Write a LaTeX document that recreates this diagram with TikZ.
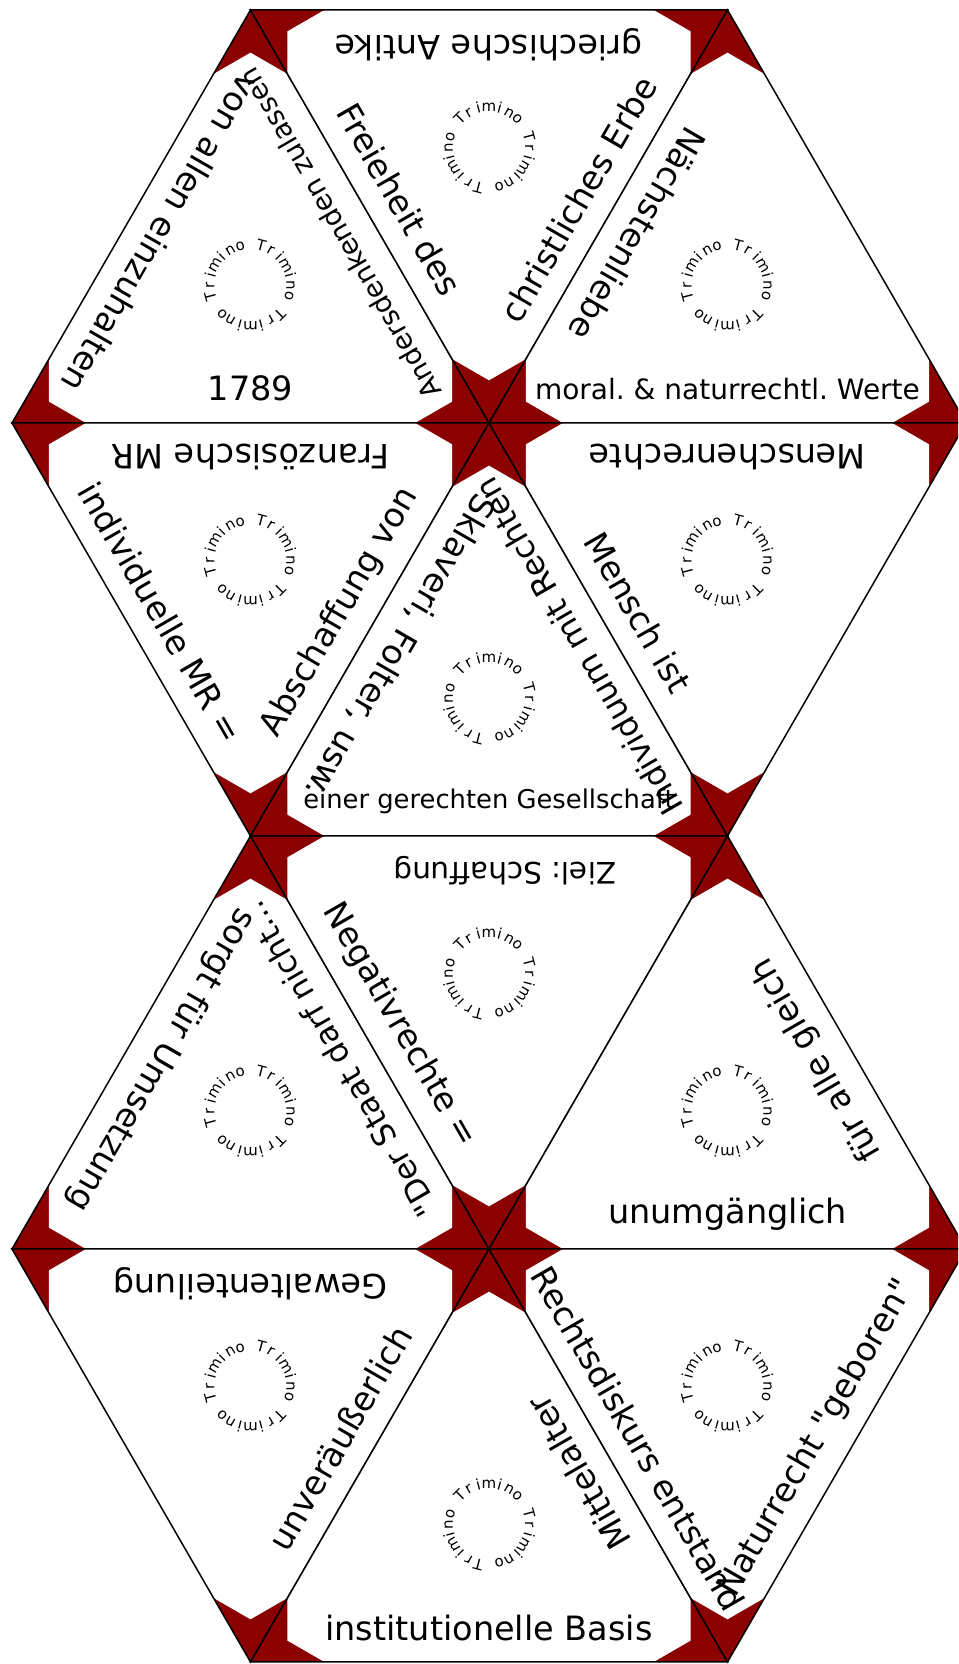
\documentclass[tikz,border=0pt]{standalone}
\usepackage{fontspec}
\setmainfont{DejaVu Sans}[Ligatures=TeXOff]
\usetikzlibrary{calc}
\definecolor{stardark}{RGB}{139,0,0}
\tikzset{
  edgeline/.style={draw=black, line width=0.75pt},
  cardtext/.style={font=\fontsize{16.75}{20}\selectfont, inner sep=0pt},
  smalltext/.style={font=\fontsize{14}{16}\selectfont, inner sep=0pt},
  logoletter/.style={font=\fontsize{7.5}{9}\selectfont, anchor=base, inner sep=0pt},
}
\newcommand{\cutfrac}{0.155}

% one card: red triangle, white card with cut corners, outline
\newcommand{\cardtile}[4]{%
  \coordinate (#4) at (barycentric cs:#1=1,#2=1,#3=1);
  \fill[stardark] (#1) -- (#2) -- (#3) -- cycle;
  \fill[white] ($(#1)!\cutfrac!(#2)$) -- ($(#2)!\cutfrac!(#1)$) -- ($(#2)!\cutfrac!(#4)$)
    -- ($(#2)!\cutfrac!(#3)$) -- ($(#3)!\cutfrac!(#2)$) -- ($(#3)!\cutfrac!(#4)$)
    -- ($(#3)!\cutfrac!(#1)$) -- ($(#1)!\cutfrac!(#3)$) -- ($(#1)!\cutfrac!(#4)$) -- cycle;
  \draw[edgeline] (#1) -- (#2) -- (#3) -- cycle;
}
% the round Trimino stamp in the middle of a card
\newcommand{\cardlogo}[2]{%
  \foreach \a in {0,120,240}
    \foreach \ch [count=\n] in {T,r,i,m,i,n,o} {
      \pgfmathsetmacro{\ang}{#2+\a+45-15*(\n-1)}
      \node[logoletter, rotate=\ang-90] (#1s\a\n) at ($(#1)+(\ang:36)$) {\ch};
    }
}

\begin{document}
\frenchspacing
\begin{tikzpicture}[x=0.5pt, y=0.5pt]
  \useasboundingbox (0,0) rectangle (958,1664);
  \fill[white] (0,0) rectangle (958,1664);
  \clip (0,0) rectangle (958,1664);

  \foreach \i in {0,...,4}
    \foreach \k in {0,...,4}
      \coordinate (v\i\k) at ({12+238.5*\i},{1654-413*\k});

  \cardtile{v01}{v10}{v21}{ta}
  \cardtile{v10}{v30}{v21}{tb}
  \cardtile{v21}{v30}{v41}{tc}
  \cardtile{v01}{v21}{v12}{td}
  \cardtile{v12}{v21}{v32}{te}
  \cardtile{v21}{v41}{v32}{tf}
  \cardtile{v03}{v12}{v23}{tg}
  \cardtile{v12}{v32}{v23}{th}
  \cardtile{v23}{v32}{v43}{ti}
  \cardtile{v03}{v23}{v14}{tj}
  \cardtile{v14}{v23}{v34}{tk}
  \cardtile{v23}{v43}{v34}{tl}

  % row 1
  \node[cardtext] (ta-b) at (barycentric cs:v01=5.5,v21=5.5,v10=1) {1789};
  \node[cardtext, rotate=240] (ta-l) at (barycentric cs:v01=5.5,v10=5.5,v21=1) {von allen einzuhalten};
  \node[smalltext, font=\fontsize{13.7}{16}\selectfont, rotate=120] (ta-r) at (barycentric cs:v10=5.5,v21=5.5,v01=1) {Andersdenkenden zulassen};
  \node[cardtext, rotate=180] (tb-t) at (barycentric cs:v10=5.5,v30=5.5,v21=1) {griechische Antike};
  \node[cardtext, rotate=300] (tb-l) at (barycentric cs:v10=5.5,v21=5.5,v30=1) {Freieheit des};
  \node[cardtext, rotate=60] (tb-r) at (barycentric cs:v30=5.5,v21=5.5,v10=1) {christliches Erbe};
  \node[cardtext, rotate=240] (tc-l) at (barycentric cs:v21=5.5,v30=5.5,v41=1) {Nächstenliebe};
  \node[smalltext] (tc-b) at (barycentric cs:v21=5.5,v41=5.5,v30=1) {moral. \& naturrechtl. Werte};

  % row 2
  \node[cardtext, rotate=180] (td-t) at (barycentric cs:v01=5.5,v21=5.5,v12=1) {Französische MR};
  \node[cardtext, rotate=300] (td-l) at (barycentric cs:v01=5.5,v12=5.5,v21=1) {individuelle MR =};
  \node[cardtext, rotate=60] (td-r) at (barycentric cs:v21=5.5,v12=5.5,v01=1) {Abschaffung von};
  \node[smalltext, font=\fontsize{12.9}{15}\selectfont] (te-b) at (barycentric cs:v12=5.5,v32=5.5,v21=1) {einer gerechten Gesellschaft};
  \node[cardtext, rotate=240] (te-l) at (barycentric cs:v12=5.5,v21=5.5,v32=1) {Sklaveri, Folter, usw.};
  \node[cardtext, font=\fontsize{16}{19}\selectfont, rotate=120] (te-r) at (barycentric cs:v21=5.5,v32=5.5,v12=1) {Individuum mit Rechten};
  \node[cardtext, rotate=180] (tf-t) at (barycentric cs:v21=5.5,v41=5.5,v32=1) {Menschenrechte};
  \node[cardtext, rotate=300] (tf-l) at (barycentric cs:v21=5.5,v32=5.5,v41=1) {Mensch ist};

  % row 3
  \node[cardtext, rotate=240] (tg-l) at (barycentric cs:v03=5.5,v12=5.5,v23=1) {sorgt für Umsetzung};
  \node[cardtext, font=\fontsize{15.8}{19}\selectfont, rotate=120] (tg-r) at (barycentric cs:v12=5.5,v23=5.5,v03=1) {"Der Staat darf nicht...};
  \node[cardtext, font=\fontsize{14.8}{18}\selectfont, rotate=180] (th-t) at ([xshift=8pt]barycentric cs:v12=5.5,v32=5.5,v23=1) {Ziel: Schaffung};
  \node[cardtext, rotate=300] (th-l) at (barycentric cs:v12=5.5,v23=5.5,v32=1) {Negativrechte =};
  \node[cardtext, rotate=120] (ti-r) at (barycentric cs:v32=5.5,v43=5.5,v23=1) {für alle gleich};
  \node[cardtext] (ti-b) at (barycentric cs:v23=5.5,v43=5.5,v32=1) {unumgänglich};

  % row 4
  \node[cardtext, rotate=180] (tj-t) at (barycentric cs:v03=5.5,v23=5.5,v14=1) {Gewaltenteilung};
  \node[cardtext, rotate=60] (tj-r) at (barycentric cs:v23=5.5,v14=5.5,v03=1) {unveräußerlich};
  \node[cardtext, rotate=120] (tk-r) at (barycentric cs:v23=5.5,v34=5.5,v14=1) {Mittelalter};
  \node[cardtext] (tk-b) at (barycentric cs:v14=5.5,v34=5.5,v23=1) {institutionelle Basis};
  \node[cardtext, rotate=300] (tl-l) at (barycentric cs:v23=5.5,v34=5.5,v43=1) {Rechtsdiskurs entstand};
  \node[cardtext, rotate=60] (tl-r) at (barycentric cs:v43=5.5,v34=5.5,v23=1) {Naturrecht "geboren"};

  % stamps
  \foreach \t in {ta,tc,td,tf,tg,ti,tj,tl} {\cardlogo{\t}{30}}
  \foreach \t in {tb,te,th,tk} {\cardlogo{\t}{90}}
\end{tikzpicture}
\end{document}
